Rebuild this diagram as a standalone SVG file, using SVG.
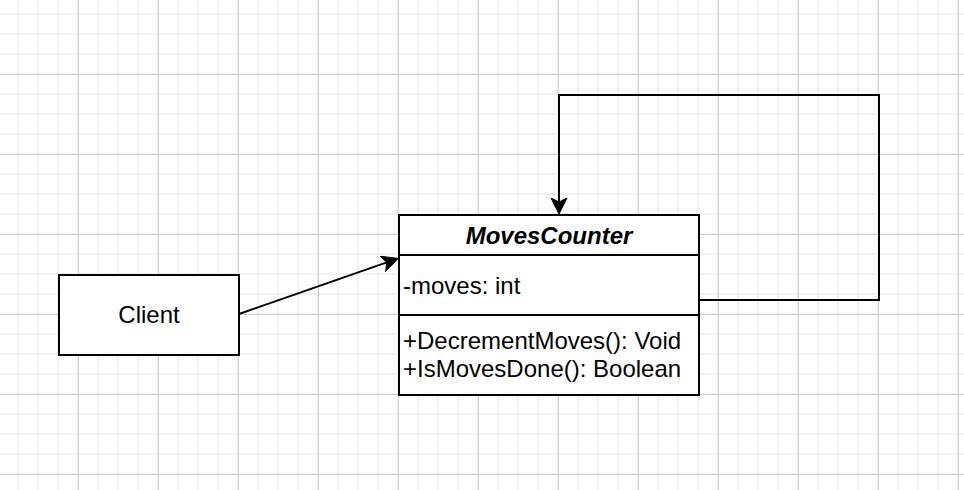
<svg xmlns="http://www.w3.org/2000/svg" width="964" height="490" viewBox="0 0 964 490">
  <style>
    .box { fill: #ffffff; stroke: #000000; stroke-width: 2; }
    .sep { stroke: #000000; stroke-width: 2; fill: none; }
    .edge { stroke: #000000; stroke-width: 2; fill: none; }
    .txt { font-family: "Liberation Sans", Arial, Helvetica, sans-serif; font-size: 24px; fill: #000000; }
    .title { font-weight: bold; font-style: italic; text-anchor: middle; }
  </style>
  <defs>
    <pattern id="minor" x="17" y="13" width="20" height="20" patternUnits="userSpaceOnUse">
      <rect x="0" y="0" width="2" height="20" fill="#f1f1f1"/>
      <rect x="0" y="0" width="20" height="2" fill="#f1f1f1"/>
    </pattern>
    <pattern id="major" x="78" y="74" width="80" height="80" patternUnits="userSpaceOnUse">
      <rect x="0" y="0" width="1" height="80" fill="#cfcfcf"/>
      <rect x="0" y="0" width="80" height="1" fill="#cfcfcf"/>
    </pattern>
    <marker id="arrow" viewBox="0 0 17 17" markerWidth="17" markerHeight="17" refX="4.5" refY="8.5" orient="auto" markerUnits="userSpaceOnUse">
      <path d="M0.5,0.5 L16.5,8.5 L0.5,16.5 L4.5,8.5 Z" fill="#000000" stroke="#000000" stroke-width="1"/>
    </marker>
  </defs>

  <g id="background">
    <rect x="0" y="0" width="964" height="490" fill="#ffffff"/>
    <rect x="0" y="0" width="964" height="490" fill="url(#minor)"/>
    <rect x="0" y="0" width="964" height="490" fill="url(#major)"/>
  </g>

  <g id="connectors">
    <path class="edge" d="M239,314 L386.8,262.4" marker-end="url(#arrow)"/>
    <path class="edge" d="M699,300 L879,300 L879,95 L559,95 L559,202" marker-end="url(#arrow)"/>
  </g>

  <g id="client">
    <rect class="box" x="59" y="275" width="180" height="80"/>
    <text class="txt" x="149" y="323" text-anchor="middle">Client</text>
  </g>

  <g id="movescounter">
    <rect class="box" x="399" y="215" width="300" height="180"/>
    <line class="sep" x1="399" y1="255" x2="699" y2="255"/>
    <line class="sep" x1="399" y1="315" x2="699" y2="315"/>
    <text class="txt title" x="549" y="244">MovesCounter</text>
    <text class="txt" x="403" y="294">-moves: int</text>
    <text class="txt" x="403" y="349">+DecrementMoves(): Void</text>
    <text class="txt" x="403" y="377">+IsMovesDone(): Boolean</text>
  </g>
</svg>
